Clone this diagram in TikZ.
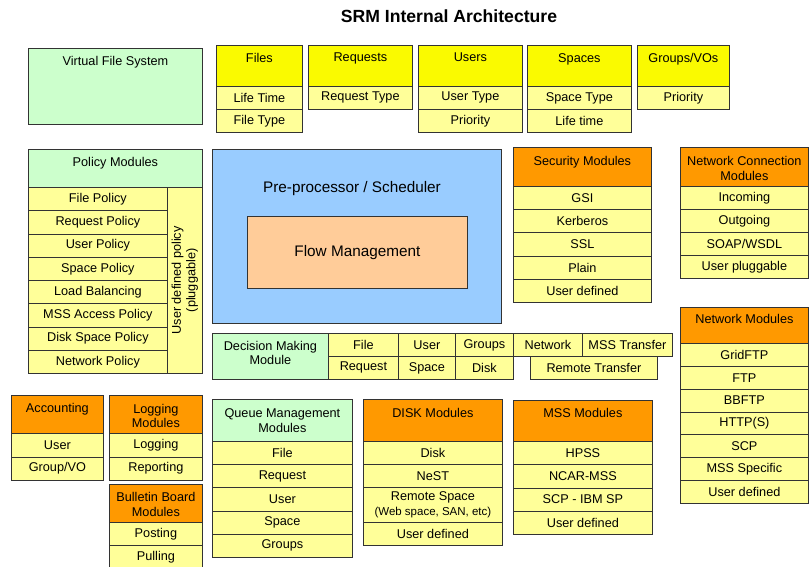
\documentclass[tikz,border=0pt]{standalone}
\usepackage{fontspec}
\setmainfont{Liberation Sans}
\definecolor{hdryellow}{RGB}{250,250,0}
\definecolor{rowyellow}{RGB}{255,255,153}
\definecolor{modgreen}{RGB}{204,255,204}
\definecolor{modorange}{RGB}{255,153,0}
\definecolor{schedblue}{RGB}{153,204,255}
\definecolor{flowpeach}{RGB}{255,204,153}
\tikzset{
  box/.style={draw=black!80, line width=0.8pt, inner sep=0pt, anchor=north west, align=center},
  cell/.style={box, fill=rowyellow},
  htext/.style={anchor=north, inner sep=0pt, align=center},
}
\begin{document}
\begin{tikzpicture}[x=1pt, y=-1pt, font=\fontsize{12.7}{14.5}\selectfont]
\useasboundingbox (0,0) rectangle (809,567);
\node[inner sep=0, font=\bfseries\fontsize{17.6}{20}\selectfont] (title) at (449,16) {SRM Internal Architecture};
% top row
\node[box, fill=modgreen, minimum width=174, minimum height=76] (vfs) at (28,48) {};
\node[htext] (vfs-t) at ([yshift=-8.5pt]vfs.north) {Virtual File System};
\node[box, fill=hdryellow, minimum width=86, minimum height=41] (files) at (216,45) {};
\node[htext] (files-t) at ([yshift=-8pt]files.north) {Files};
\foreach \t [count=\i] in {Life Time, File Type}
  \node[cell, minimum width=86, minimum height=23] (files-\i) at (216,{86+23*(\i-1)}) {\t};
\node[box, fill=hdryellow, minimum width=104, minimum height=41] (req) at (308,45) {};
\node[htext] (req-t) at ([yshift=-8pt]req.north) {Requests};
\node[cell, minimum width=104, minimum height=23] (req-1) at (308,86) {Request Type};
\node[box, fill=hdryellow, minimum width=104, minimum height=41] (users) at (418,45) {};
\node[htext] (users-t) at ([yshift=-8pt]users.north) {Users};
\foreach \t [count=\i] in {User Type, Priority}
  \node[cell, minimum width=104, minimum height=23] (users-\i) at (418,{86+23*(\i-1)}) {\t};
\node[box, fill=hdryellow, minimum width=104, minimum height=41] (spaces) at (527,45) {};
\node[htext] (spaces-t) at ([yshift=-8pt]spaces.north) {Spaces};
\foreach \t [count=\i] in {Space Type, Life time}
  \node[cell, minimum width=104, minimum height=23] (spaces-\i) at (527,{86+23*(\i-1)}) {\t};
\node[box, fill=hdryellow, minimum width=92, minimum height=41] (groups) at (637,45) {};
\node[htext] (groups-t) at ([yshift=-8pt]groups.north) {Groups/VOs};
\node[cell, minimum width=92, minimum height=23] (groups-1) at (637,86) {Priority};
% policy modules
\node[box, fill=modgreen, minimum width=174, minimum height=38] (pol) at (28,149) {};
\node[htext] (pol-t) at ([yshift=-8.5pt]pol.north) {Policy Modules};
\foreach \t [count=\i] in {File Policy, Request Policy, User Policy, Space Policy, Load Balancing, MSS Access Policy, Disk Space Policy, Network Policy}
  \node[cell, minimum width=139, minimum height=23.25] (pol-\i) at (28,{187+23.25*(\i-1)}) {\t};
\node[cell, minimum width=35, minimum height=186] (pol-user) at (167,187) {};
\node[rotate=90, align=center, inner sep=0] (pol-user-t) at (pol-user.center) {User defined policy\\(pluggable)};
% scheduler
\node[box, fill=schedblue, minimum width=289, minimum height=174] (sched) at (212,149) {};
\node[inner sep=0, font=\fontsize{15.3}{18}\selectfont] (sched-t) at (352,188.5) {Pre-processor / Scheduler};
\node[box, fill=flowpeach, minimum width=220, minimum height=72, font=\fontsize{15.3}{18}\selectfont] (flow) at (247,216) {Flow Management};
% security
\node[box, fill=modorange, minimum width=138, minimum height=39] (sec) at (513,147) {};
\node[htext] (sec-t) at ([yshift=-9pt]sec.north) {Security Modules};
\foreach \t [count=\i] in {GSI, Kerberos, SSL, Plain, User defined}
  \node[cell, minimum width=138, minimum height=23.2] (sec-\i) at (513,{186+23.2*(\i-1)}) {\t};
\node[box, fill=modorange, minimum width=128, minimum height=39] (netc) at (680,147) {};
\node[htext] (netc-t) at ([yshift=-9.5pt]netc.north) {Network Connection\\Modules};
\foreach \t [count=\i] in {Incoming, Outgoing, SOAP/WSDL, User pluggable}
  \node[cell, minimum width=128, minimum height=23] (netc-\i) at (680,{186+23*(\i-1)}) {\t};
% decision making
\node[box, fill=modgreen, minimum width=116, minimum height=46] (dmm) at (212,333) {};
\node[htext] (dmm-t) at ([yshift=-8pt]dmm.north) {Decision Making\\Module};
\node[cell, minimum width=70, minimum height=23] (dm-file) at (328,333) {File};
\node[cell, minimum width=70, minimum height=23] (dm-req) at (328,356) {Request};
\node[cell, minimum width=57, minimum height=23] (dm-user) at (398,333) {User};
\node[cell, minimum width=57, minimum height=23] (dm-space) at (398,356) {Space};
\node[cell, minimum width=58, minimum height=23] (dm-groups) at (455,333) {Groups};
\node[cell, minimum width=58, minimum height=23] (dm-disk) at (455,356) {Disk};
\node[cell, minimum width=69, minimum height=23] (dm-net) at (513,333) {Network};
\node[cell, minimum width=90, minimum height=23] (dm-mss) at (582,333) {MSS Transfer};
\node[cell, minimum width=127, minimum height=23] (dm-remote) at (530,356) {Remote Transfer};
% network modules
\node[box, fill=modorange, minimum width=128, minimum height=36] (net) at (680,307) {};
\node[htext] (net-t) at ([yshift=-7pt]net.north) {Network Modules};
\foreach \t [count=\i] in {GridFTP, FTP, BBFTP, HTTP(S), SCP, MSS Specific, User defined}
  \node[cell, minimum width=128, minimum height=22.86] (net-\i) at (680,{343+22.86*(\i-1)}) {\t};
% accounting, logging, bulletin
\node[box, fill=modorange, minimum width=92, minimum height=38] (acc) at (11,395) {};
\node[htext] (acc-t) at ([yshift=-8.5pt]acc.north) {Accounting};
\foreach \t [count=\i] in {User, Group/VO}
  \node[cell, minimum width=92, minimum height=23.5] (acc-\i) at (11,{433+23.5*(\i-1)}) {\t};
\node[box, fill=modorange, minimum width=93, minimum height=38] (log) at (109,395) {};
\node[htext] (log-t) at ([yshift=-9pt]log.north) {Logging\\Modules};
\foreach \t [count=\i] in {Logging, Reporting}
  \node[cell, minimum width=93, minimum height=23.5] (log-\i) at (109,{433+23.5*(\i-1)}) {\t};
\node[box, fill=modorange, minimum width=93, minimum height=38] (bb) at (109,484) {};
\node[htext] (bb-t) at ([yshift=-8.5pt]bb.north) {Bulletin Board\\Modules};
\foreach \t [count=\i] in {Posting, Pulling}
  \node[cell, minimum width=93, minimum height=23] (bb-\i) at (109,{522+23*(\i-1)}) {\t};
% queue, disk, mss
\node[box, fill=modgreen, minimum width=140, minimum height=42] (queue) at (212,399) {};
\node[htext] (queue-t) at ([yshift=-9.5pt]queue.north) {Queue Management\\Modules};
\foreach \t [count=\i] in {File, Request, User, Space, Groups}
  \node[cell, minimum width=140, minimum height=23.2] (queue-\i) at (212,{441+23.2*(\i-1)}) {\t};
\node[box, fill=modorange, minimum width=139, minimum height=42] (disk) at (363,399) {};
\node[htext] (disk-t) at ([yshift=-9pt]disk.north) {DISK Modules};
\node[cell, minimum width=139, minimum height=23] (disk-1) at (363,441) {Disk};
\node[cell, minimum width=139, minimum height=23] (disk-2) at (363,464) {NeST};
\node[cell, minimum width=139, minimum height=35] (disk-3) at (363,487) {Remote Space\\{\fontsize{11.5}{13}\selectfont (Web space, SAN, etc)}};
\node[cell, minimum width=139, minimum height=23] (disk-4) at (363,522) {User defined};
\node[box, fill=modorange, minimum width=139, minimum height=41] (mss) at (513,400) {};
\node[htext] (mss-t) at ([yshift=-8pt]mss.north) {MSS Modules};
\foreach \t [count=\i] in {HPSS, NCAR-MSS, SCP - IBM SP, User defined}
  \node[cell, minimum width=139, minimum height=23.25] (mss-\i) at (513,{441+23.25*(\i-1)}) {\t};
\end{tikzpicture}
\end{document}
